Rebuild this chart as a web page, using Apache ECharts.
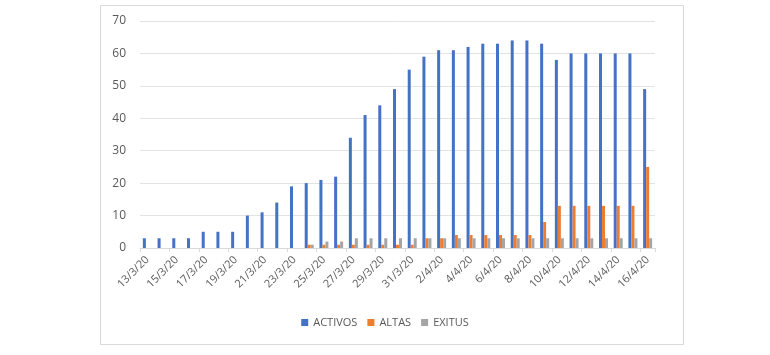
<!DOCTYPE html>
<html>
<head>
<meta charset="utf-8">
<script src="https://cdn.jsdelivr.net/npm/echarts@6/dist/echarts.min.js"></script>
<style>html,body{margin:0;padding:0;background:#fff}#c{width:770px;height:355px}</style>
</head>
<body>
<div id="c"></div>
<script>
var categories = ['13/3/20','14/3/20','15/3/20','16/3/20','17/3/20','18/3/20','19/3/20','20/3/20','21/3/20','22/3/20','23/3/20','24/3/20','25/3/20','26/3/20','27/3/20','28/3/20','29/3/20','30/3/20','31/3/20','1/4/20','2/4/20','3/4/20','4/4/20','5/4/20','6/4/20','7/4/20','8/4/20','9/4/20','10/4/20','11/4/20','12/4/20','13/4/20','14/4/20','15/4/20','16/4/20'];
var activos = [3,3,3,3,5,5,5,10,11,14,19,20,21,22,34,41,44,49,55,59,61,61,62,63,63,64,64,63,58,60,60,60,60,60,49];
var altas   = [0,0,0,0,0,0,0,0,0,0,0,1,1,1,1,1,1,1,1,3,3,4,4,4,4,4,4,8,13,13,13,13,13,13,25];
var exitus  = [0,0,0,0,0,0,0,0,0,0,0,1,2,2,3,3,3,3,3,3,3,3,3,3,3,3,3,3,3,3,3,3,3,3,3];

var chart = echarts.init(document.getElementById('c'));
var txt = '#595959';
chart.setOption({
  animation: false,
  textStyle: {fontFamily: 'Open Sans, Liberation Sans, sans-serif'},
  graphic: [{type:'rect', shape:{x:100.5,y:5.5,width:583,height:339}, style:{fill:'none', stroke:'#d9d9d9', lineWidth:1}}],
  grid: {left:140, right:115, top:21, bottom:107, containLabel:false},
  legend: {
    bottom: 22, left: 'center', itemWidth: 7, itemHeight: 7, itemGap: 10,
    icon: 'rect', textStyle: {color: txt, fontSize: 11},
    data: ['ACTIVOS','ALTAS','EXITUS']
  },
  xAxis: {
    type: 'category', data: categories,
    axisLine: {lineStyle: {color: '#d9d9d9'}},
    axisTick: {show: true, interval: 1, alignWithLabel: false, lineStyle: {color: '#d9d9d9'}, length: 4},
    axisLabel: {interval: 1, rotate: 45, color: txt, fontSize: 11, margin: 10}
  },
  yAxis: {
    type: 'value', min: 0, max: 70, interval: 10,
    axisLine: {show: false}, axisTick: {show: false},
    splitLine: {lineStyle: {color: '#e3e3e3'}},
    axisLabel: {color: txt, fontSize: 12, margin: 14}
  },
  series: [
    {name:'ACTIVOS', type:'bar', data: activos, barWidth: 3, barGap: '0%', itemStyle:{color:'#4472C4'}},
    {name:'ALTAS', type:'bar', data: altas, barWidth: 3, barGap: '0%', itemStyle:{color:'#ED7D31'}},
    {name:'EXITUS', type:'bar', data: exitus, barWidth: 3, barGap: '0%', itemStyle:{color:'#A5A5A5'}}
  ]
});
</script>
</body>
</html>
